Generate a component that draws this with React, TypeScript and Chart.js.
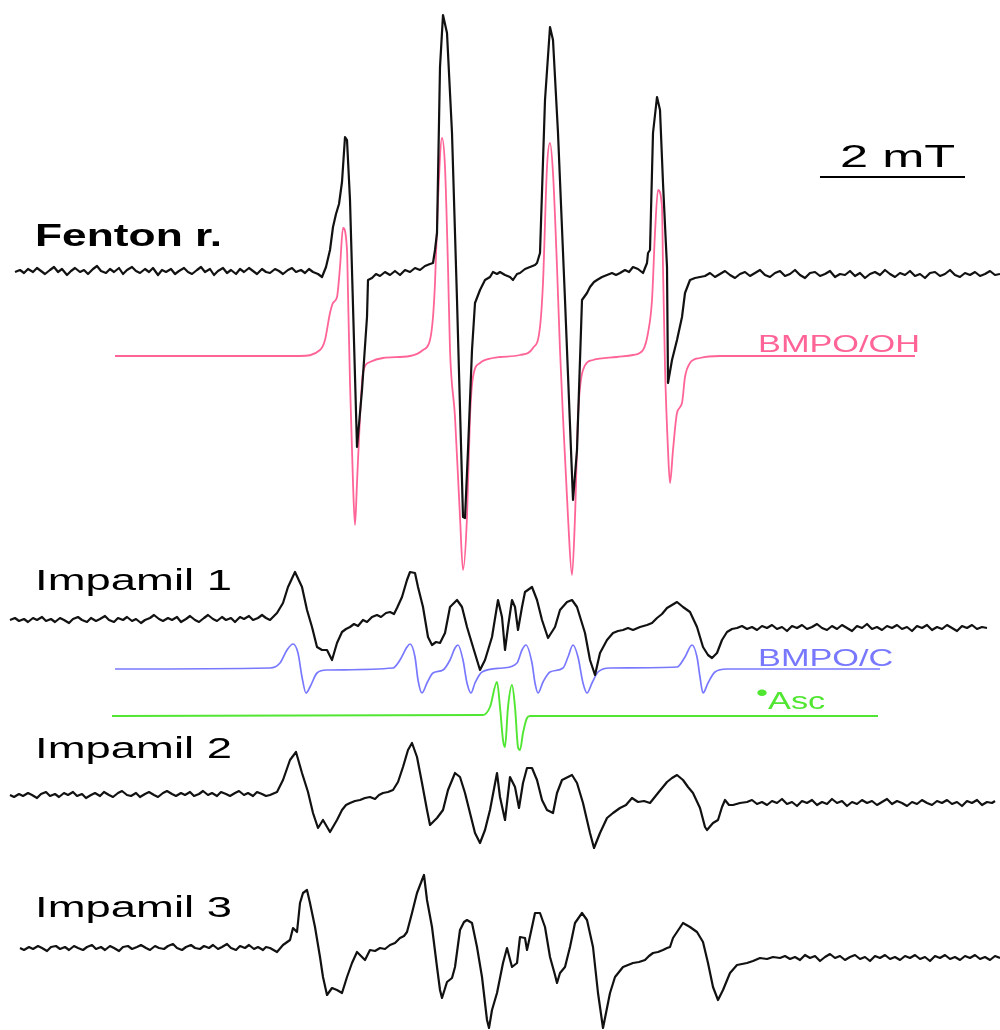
import React, { useEffect, useRef } from "react";
import { Chart, registerables } from "chart.js";

Chart.register(...registerables);

// Field axis (scan position) and stacking baselines of the traces
const FIELD_MIN = 0;
const FIELD_MAX = 1000;
const STACK_MIN = 0;
const STACK_MAX = 1030;

const FENTON_BASE = 272;
const OH_BASE = 356;
const IMP1_BASE = 620;
const C_BASE = 669;
const ASC_BASE = 716;
const IMP2_BASE = 795;
const IMP3_BASE = 948;

type P = [number, number];

// ---------- Fenton reaction (experimental) ----------
const fentonLeft: P[] = [[15,0],[20,2],[24,-1],[28,3],[33,0],[37,4],[41,1],[45,-2],[50,2],[54,5],[58,0],[62,3],[67,-3],[71,1],[75,4],[80,0],[84,2],[88,-2],[93,3],[97,6],[101,1],[106,-1],[110,3],[114,0],[119,4],[123,-2],[127,2],[132,5],[136,1],[140,-1],[145,3],[149,0],[153,4],[158,-3],[162,2],[166,0],[171,3],[175,-2],[179,1],[184,4],[188,0],[192,-2],[197,2],[201,5],[205,0],[210,3],[214,-3],[218,1],[223,4],[227,-1],[231,2],[236,-2],[240,3],[244,0],[249,4],[253,1],[257,-2],[262,3],[266,0],[270,-1],[275,3],[279,1],[283,-2],[288,2],[292,4],[296,0],[301,2],[305,-1],[309,3],[313,0],[318,-2]];
const fentonLines: P[] = [[322,-5],[326,5],[330,22],[333,45],[336,58],[339,68],[342,90],[345,135],[347,132],[350,72],[357,-175],[362,-118],[367,-45],[368,-8],[372,-6],[376,-2],[380,-4],[385,0],[390,-3],[395,1],[400,-3],[405,2],[410,0],[415,4],[420,2],[425,6],[430,8],[433,9],[435,22],[437,39],[440,205],[443,257],[447,239],[452,139],[457,-28],[463,-245],[465,-246],[468,-178],[472,-78],[475,-31],[480,-18],[485,-8],[490,-5],[493,0],[497,-2],[500,0],[505,-3],[510,-5],[513,-8],[517,-2],[520,-1],[525,3],[530,5],[535,7],[537,9],[540,19],[545,172],[550,245],[553,232],[558,139],[565,-28],[573,-228],[577,-178],[582,-28],[587,-21],[590,-15],[594,-10],[597,-8],[602,-5],[607,-3],[612,-1],[616,-3],[620,-1],[625,2],[629,0],[633,5],[638,3],[643,-1],[647,9],[648,19],[650,22],[653,139],[657,175],[660,162],[663,89],[667,5],[668,-111],[672,-88],[677,-68],[682,-45],[685,-21],[690,-8],[695,-6],[700,-5]];
const fentonRight: P[] = [[705,-4],[710,-1],[715,-5],[720,-2],[725,1],[730,-3],[735,-6],[740,-2],[745,0],[750,-4],[755,-1],[760,2],[765,-3],[770,-5],[775,-1],[780,1],[785,-4],[790,-2],[795,2],[800,-3],[805,-6],[810,-1],[815,0],[820,-4],[825,-2],[830,1],[835,-5],[840,-2],[845,-3],[850,1],[855,-4],[860,-1],[865,-6],[870,-2],[875,0],[880,-3],[885,2],[890,-2],[895,-5],[900,-1],[905,-3],[910,1],[915,-4],[920,-2],[925,-6],[930,-1],[935,0],[940,-4],[945,-2],[950,2],[955,-3],[960,-5],[965,-1],[970,-3],[975,0],[980,-4],[985,-2],[990,1],[995,-3],[1000,-2]];

// ---------- BMPO/OH (simulation) ----------
const bmpoOH: P[] = [[115,0],[300,0],[320,6],[325,16],[330,43],[333,53],[337,59],[340,89],[343,128],[347,106],[348,63],[350,-27],[353,-127],[355,-169],[357,-127],[360,-61],[363,-17],[370,-6],[383,-2],[410,0],[423,6],[430,16],[433,39],[435,73],[438,156],[442,218],[445,189],[448,89],[450,6],[455,-61],[460,-161],[463,-214],[467,-161],[470,-61],[473,-21],[480,-7],[493,-2],[500,-1],[520,1],[533,8],[540,29],[543,73],[547,189],[550,213],[553,183],[557,89],[560,6],[563,-61],[568,-161],[572,-219],[575,-161],[578,-61],[583,-14],[593,-4],[617,-1],[633,1],[643,6],[648,23],[652,56],[655,123],[658,166],[662,149],[663,89],[665,-11],[668,-94],[670,-127],[673,-94],[677,-57],[682,-47],[685,-21],[690,-7],[700,-2],[720,0],[915,0]];

// ---------- Impamil 1 ----------
const imp1Left: P[] = [[10,0],[15,2],[19,-1],[24,1],[28,-2],[33,2],[37,0],[42,3],[46,-1],[51,1],[55,-2],[60,2],[64,0],[69,-3],[73,1],[78,3],[82,0],[87,-2],[91,2],[96,-1],[100,1],[105,4],[109,0],[114,-2],[118,2],[123,0],[127,3],[132,-1],[136,1],[141,-3],[145,0],[150,2],[154,5],[159,1],[163,-1],[168,2],[172,0],[177,3],[181,-2],[186,1],[190,4],[195,0],[199,-2],[204,2],[208,5],[213,1],[217,-1],[222,3],[226,0],[231,2],[235,-2],[240,3],[244,1],[249,4],[253,0],[258,2],[262,5],[266,2]];
const imp1Lines: P[] = [[270,0],[277,7],[283,17],[288,33],[295,48],[302,33],[307,10],[312,-7],[317,-27],[322,-30],[327,-30],[332,-40],[337,-23],[342,-12],[346,-9],[350,-7],[354,-4],[358,-6],[363,0],[367,-2],[372,3],[377,5],[381,3],[386,7],[390,8],[394,6],[397,12],[402,23],[407,40],[410,48],[415,47],[418,33],[423,13],[428,-17],[432,-25],[436,-22],[440,-23],[445,-13],[450,13],[457,20],[462,13],[467,-7],[473,-27],[480,-50],[485,-40],[492,-17],[498,20],[502,3],[505,-30],[508,-7],[512,20],[515,13],[518,-10],[522,13],[525,28],[532,33],[537,20],[542,0],[548,-18],[555,-7],[560,10],[567,18],[572,20],[577,13],[585,-13],[590,-40],[595,-55],[600,-33],[607,-20],[613,-13],[618,-11],[623,-10],[628,-8],[633,-10],[640,-7],[647,-5],[652,-3],[657,2],[662,6],[667,12],[672,15],[677,18],[683,13],[690,8],[697,-7],[703,-27],[708,-35],[712,-38],[717,-33],[722,-20],[727,-12],[732,-9],[737,-8]];
const imp1Right: P[] = [[742,-6],[747,-9],[752,-7],[757,-10],[762,-6],[767,-8],[772,-5],[777,-9],[782,-7],[787,-11],[792,-6],[797,-8],[802,-5],[807,-9],[812,-7],[817,-4],[822,-8],[827,-10],[832,-6],[837,-9],[842,-5],[847,-8],[852,-11],[857,-6],[862,-8],[867,-4],[872,-9],[877,-7],[882,-10],[887,-6],[892,-8],[897,-5],[902,-9],[907,-7],[912,-11],[917,-6],[922,-8],[927,-5],[932,-10],[937,-7],[942,-9],[947,-5],[952,-8],[957,-11],[962,-6],[967,-8],[972,-5],[977,-9],[982,-7],[987,-8]];

// ---------- BMPO/C (simulation) ----------
const bmpoC: P[] = [[115,0],[270,1],[280,6],[287,19],[293,25],[298,16],[302,-8],[306,-24],[310,-18],[317,-4],[327,-1],[393,1],[400,9],[407,22],[410,25],[415,12],[418,-11],[422,-24],[427,-14],[433,-4],[443,-1],[450,9],[455,21],[458,24],[463,9],[467,-14],[471,-24],[475,-14],[482,-3],[503,1],[517,6],[522,19],[526,24],[532,6],[535,-14],[538,-24],[543,-13],[550,-3],[563,1],[568,12],[573,24],[578,12],[583,-14],[587,-24],[592,-14],[598,-3],[610,1],[677,2],[685,12],[692,24],[697,12],[700,-8],[703,-24],[708,-14],[715,-3],[727,0],[880,0]];

// ---------- Ascorbyl radical (simulation) ----------
const asc: P[] = [[112,0],[483,1],[490,9],[497,34],[500,9],[503,-24],[505,-31],[508,9],[512,31],[515,9],[518,-31],[520,-34],[523,-17],[527,-2],[530,0],[878,0]];

// ---------- Impamil 2 ----------
const imp2Left: P[] = [[10,0],[14,-2],[19,1],[23,-1],[28,2],[32,0],[37,-3],[41,1],[46,3],[50,-1],[55,1],[59,-2],[64,2],[68,0],[73,3],[77,-1],[82,1],[86,-3],[91,0],[95,2],[100,-1],[104,3],[109,0],[113,-2],[118,2],[122,4],[127,0],[131,-1],[136,2],[140,-2],[145,1],[149,3],[154,0],[158,-2],[163,2],[167,4],[172,1],[176,-1],[181,2],[185,0],[190,3],[194,-1],[199,1],[203,4],[208,0],[212,2],[217,-1],[221,3],[226,1],[230,-1],[235,2],[239,4],[244,0],[248,2],[253,-1],[257,3],[262,1],[266,-1]];
const imp2Lines: P[] = [[270,0],[277,3],[283,15],[290,35],[296,43],[302,22],[308,3],[313,-18],[318,-33],[323,-25],[330,-37],[337,-25],[342,-15],[346,-10],[350,-8],[355,-6],[360,-5],[365,-3],[370,-2],[375,-4],[379,0],[383,2],[388,3],[393,5],[398,13],[403,28],[408,45],[412,52],[417,38],[422,12],[427,-15],[430,-30],[437,-23],[443,-15],[448,5],[455,22],[460,18],[465,2],[470,-18],[475,-38],[480,-48],[485,-35],[490,-15],[497,22],[500,-2],[505,-25],[510,18],[515,8],[519,-13],[523,12],[527,27],[532,27],[537,15],[542,-5],[547,-15],[553,-18],[557,2],[562,15],[572,20],[577,12],[583,-8],[590,-38],[594,-53],[600,-38],[607,-23],[613,-18],[620,-13],[626,-10],[632,-3],[638,-7],[644,-6],[650,-8],[658,2],[667,13],[672,17],[677,20],[683,15],[688,8],[693,2],[700,-13],[705,-32],[707,-35],[713,-28],[718,-25],[722,-12],[725,-5],[729,-10],[733,-10],[740,-8],[747,-7]];
const imp2Right: P[] = [[752,-5],[757,-9],[762,-7],[767,-10],[772,-6],[777,-8],[782,-4],[787,-9],[792,-7],[797,-11],[802,-6],[807,-8],[812,-5],[817,-10],[822,-7],[827,-9],[832,-4],[837,-8],[842,-6],[847,-11],[852,-7],[857,-9],[862,-5],[867,-8],[872,-6],[877,-10],[882,-7],[887,-4],[892,-9],[897,-6],[902,-8],[907,-11],[912,-7],[917,-9],[922,-5],[927,-8],[932,-10],[937,-6],[942,-8],[947,-5],[952,-9],[957,-7],[962,-11],[967,-6],[972,-8],[977,-5],[982,-10],[987,-7],[992,-8],[995,-6]];

// ---------- Impamil 3 ----------
const imp3Left: P[] = [[20,0],[24,-2],[29,1],[33,-1],[38,2],[42,0],[47,-3],[51,1],[56,2],[60,-1],[65,1],[69,-2],[74,2],[78,0],[83,-2],[87,1],[92,3],[96,-1],[101,1],[105,-2],[110,2],[114,0],[119,-3],[123,1],[128,2],[132,-1],[137,1],[141,3],[146,0],[150,-2],[155,2],[159,0],[164,-1],[168,2],[173,4],[177,0],[182,-2],[186,1],[191,3],[195,0],[200,-1],[204,2],[209,0],[213,3],[218,-1],[222,1],[227,4],[231,0],[236,-2],[240,2],[245,0],[249,3],[254,-1],[258,1],[263,-2],[266,1]];
const imp3Lines: P[] = [[270,0],[277,-4],[283,3],[290,8],[293,20],[297,16],[300,45],[303,55],[307,58],[310,45],[315,21],[320,-9],[323,-29],[327,-47],[332,-40],[337,-42],[342,-45],[347,-29],[352,-15],[357,-4],[361,-8],[365,-12],[370,-2],[375,-3],[380,0],[385,-1],[390,3],[395,5],[400,10],[404,12],[407,16],[412,35],[417,55],[422,68],[424,73],[427,48],[432,21],[437,-19],[440,-42],[442,-50],[447,-34],[452,-30],[455,-19],[460,18],[464,26],[467,28],[472,25],[477,1],[482,-29],[487,-72],[489,-80],[492,-62],[497,-45],[503,-15],[507,0],[512,-19],[517,-15],[520,11],[525,10],[527,-2],[532,21],[535,35],[540,35],[545,21],[550,-9],[555,-27],[557,-35],[560,-25],[565,-19],[570,1],[575,25],[582,35],[587,28],[593,1],[598,-45],[603,-80],[610,-45],[615,-29],[623,-19],[628,-17],[633,-15],[639,-14],[645,-12],[649,-8],[653,-5],[658,-4],[663,-2],[667,0],[670,1],[673,10],[677,16],[683,25],[690,21],[697,16],[703,6],[708,-15],[713,-39],[718,-52],[723,-42],[730,-25],[737,-17],[742,-16],[747,-15],[753,-13],[760,-10],[767,-11],[773,-9],[780,-10]];
const imp3Right: P[] = [[785,-8],[790,-11],[795,-9],[800,-12],[805,-7],[810,-10],[815,-8],[820,-13],[825,-9],[830,-6],[835,-10],[840,-8],[845,-12],[850,-9],[855,-7],[860,-11],[865,-9],[870,-13],[875,-8],[880,-10],[885,-7],[890,-11],[895,-9],[900,-12],[905,-8],[910,-10],[915,-7],[920,-11],[925,-9],[930,-13],[935,-8],[940,-10],[945,-7],[950,-11],[955,-9],[960,-12],[965,-8],[970,-10],[975,-7],[980,-11],[985,-9],[990,-12],[995,-8],[1000,-10]];

const BLACK = "#111111";
const PINK = "#ff6496";
const BLUE = "#7878ff";
const GREEN = "#50e632";

function toPoints(series: P[], base: number) {
  return series.map(([x, v]) => ({ x, y: base - v }));
}

const FONT = "'Liberation Sans', Arial, Helvetica, sans-serif";

type Label = { text: React.ReactNode; left: number; top: number; size: number; sx: number; color: string; bold?: boolean };

const labels: Label[] = [
  { text: "Fenton r.", left: 35, top: 220, size: 31, sx: 1.43, color: "#000", bold: true },
  { text: "Impamil 1", left: 35, top: 565, size: 30, sx: 1.515, color: "#000" },
  { text: "Impamil 2", left: 35, top: 733, size: 30, sx: 1.515, color: "#000" },
  { text: "Impamil 3", left: 35, top: 892, size: 30, sx: 1.515, color: "#000" },
  { text: "BMPO/OH", left: 758, top: 332, size: 24, sx: 1.43, color: PINK },
  { text: "BMPO/C", left: 758, top: 646, size: 24, sx: 1.43, color: BLUE },
  { text: <><span style={{ position: "relative", top: -8 }}>•</span>Asc</>, left: 756, top: 689, size: 24, sx: 1.43, color: GREEN },
  { text: "2 mT", left: 840, top: 140, size: 32, sx: 1.58, color: "#000" },
];

export default function App() {
  const ref = useRef<HTMLCanvasElement | null>(null);

  useEffect(() => {
    if (!ref.current) return;
    const mk = (label: string, data: { x: number; y: number }[], color: string, width: number, smooth: boolean) => ({
      label,
      data,
      borderColor: color,
      backgroundColor: color,
      borderWidth: width,
      pointRadius: 0,
      fill: false,
      tension: 0,
      borderJoinStyle: "round" as const,
      cubicInterpolationMode: smooth ? ("monotone" as const) : ("default" as const),
    });
    const chart = new Chart(ref.current, {
      type: "line",
      data: {
        datasets: [
          mk("Fenton r.", toPoints([...fentonLeft, ...fentonLines, ...fentonRight], FENTON_BASE), BLACK, 2.2, false),
          mk("BMPO/OH", toPoints(bmpoOH, OH_BASE), PINK, 1.8, true),
          mk("Impamil 1", toPoints([...imp1Left, ...imp1Lines, ...imp1Right], IMP1_BASE), BLACK, 2.2, false),
          mk("BMPO/C", toPoints(bmpoC, C_BASE), BLUE, 1.7, true),
          mk("•Asc", toPoints(asc, ASC_BASE), GREEN, 1.9, true),
          mk("Impamil 2", toPoints([...imp2Left, ...imp2Lines, ...imp2Right], IMP2_BASE), BLACK, 2.2, false),
          mk("Impamil 3", toPoints([...imp3Left, ...imp3Lines, ...imp3Right], IMP3_BASE), BLACK, 2.2, false),
        ],
      },
      options: {
        animation: false,
        responsive: false,
        maintainAspectRatio: false,
        devicePixelRatio: 1,
        parsing: false,
        normalized: true,
        layout: { padding: 0 },
        plugins: { legend: { display: false }, tooltip: { enabled: false }, title: { display: false } },
        scales: {
          x: { type: "linear", min: FIELD_MIN, max: FIELD_MAX, display: false },
          y: { type: "linear", min: STACK_MIN, max: STACK_MAX, reverse: true, display: false },
        },
      },
    });
    return () => chart.destroy();
  }, []);

  return (
    <div style={{ position: "absolute", left: 0, top: 0, width: 1000, height: 1030, background: "#fff", overflow: "hidden" }}>
      <canvas ref={ref} width={1000} height={1030} style={{ position: "absolute", left: 0, top: 0, width: 1000, height: 1030 }} />
      {labels.map((l, i) => (
        <div
          key={i}
          style={{
            position: "absolute",
            left: l.left,
            top: l.top,
            fontFamily: FONT,
            fontSize: l.size,
            lineHeight: `${l.size}px`,
            fontWeight: l.bold ? 700 : 400,
            color: l.color,
            whiteSpace: "nowrap",
            transform: `scaleX(${l.sx})`,
            transformOrigin: "left top",
          }}
        >
          {l.text}
        </div>
      ))}
      <div style={{ position: "absolute", left: 820, top: 176, width: 145, height: 2, background: "#000" }} />
    </div>
  );
}
